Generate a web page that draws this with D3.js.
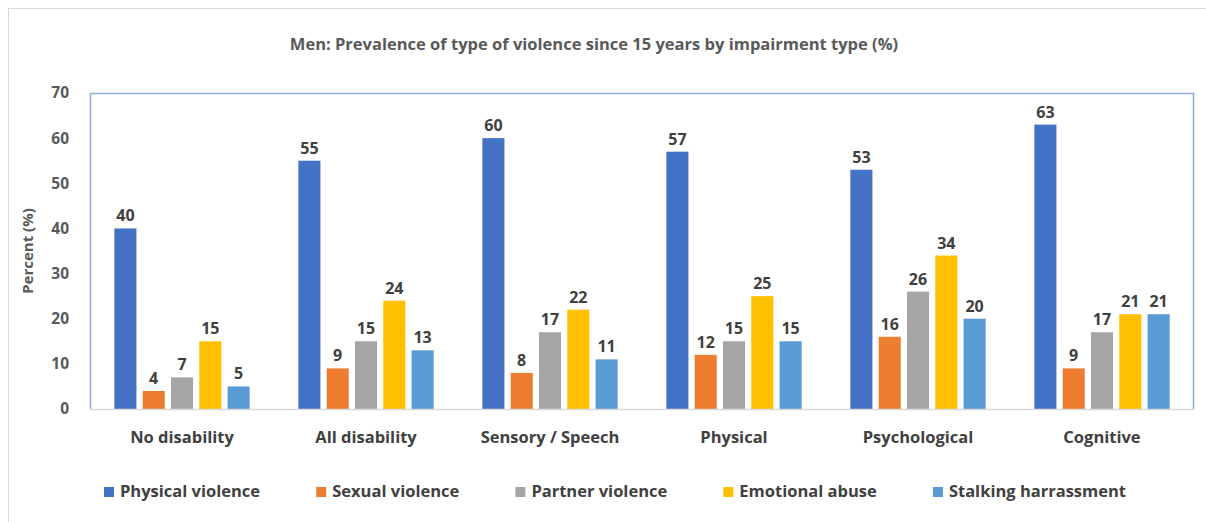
<!DOCTYPE html>
<html>
<head>
<meta charset="utf-8">
<script src="https://cdn.jsdelivr.net/npm/d3@7"></script>
<style>
  body { margin: 0; background: #fff; }
  text { font-family: "Open Sans", sans-serif; font-weight: 700; }
</style>
</head>
<body>
<svg id="chart" width="1206" height="522"></svg>
<script>
// data
var categories = ["No disability", "All disability", "Sensory / Speech", "Physical", "Psychological", "Cognitive"];
var seriesNames = ["Physical violence", "Sexual violence", "Partner violence", "Emotional abuse", "Stalking harrassment"];
var physicalViolence = [40, 55, 60, 57, 53, 63];
var sexualViolence = [4, 9, 8, 12, 16, 9];
var partnerViolence = [7, 15, 17, 15, 26, 17];
var emotionalAbuse = [15, 24, 22, 25, 34, 21];
var stalking = [5, 13, 11, 15, 20, 21];
var yTicks = [0, 10, 20, 30, 40, 50, 60, 70];
var colors = ["#4472C4", "#ED7D31", "#A5A5A5", "#FFC000", "#5B9BD5"];

var seriesValues = [physicalViolence, sexualViolence, partnerViolence, emotionalAbuse, stalking];

var svg = d3.select("#chart");

// outer chart border
svg.append("rect")
  .attr("x", 8.5).attr("y", 8.5)
  .attr("width", 1210).attr("height", 530)
  .attr("fill", "#fff")
  .attr("stroke", "#D9D9D9");

var plotLeft = 90, plotRight = 1194, plotTop = 93, plotBottom = 409;

var x0 = d3.scaleBand().domain(categories).range([plotLeft, plotRight]).padding(0);
var x1 = d3.scaleBand().domain(seriesNames).range([0, x0.bandwidth()])
  .paddingInner(0.22).paddingOuter(0.86);
var y = d3.scaleLinear().domain([0, 70]).range([plotBottom, plotTop]);

// title
svg.append("text")
  .attr("x", 594).attr("y", 50)
  .attr("text-anchor", "middle")
  .attr("fill", "#595959")
  .style("font-size", "16.5px")
  .text("Men: Prevalence of type of violence since 15 years by impairment type (%)");

// y axis title
svg.append("text")
  .attr("transform", "translate(33," + ((plotTop + plotBottom) / 2) + ") rotate(-90)")
  .attr("text-anchor", "middle")
  .attr("fill", "#595959")
  .style("font-size", "15px")
  .text("Percent (%)");

// y tick labels
svg.append("g")
  .selectAll("text")
  .data(yTicks)
  .enter()
  .append("text")
  .attr("x", 69)
  .attr("y", function(d) { return y(d); })
  .attr("dy", "0.35em")
  .attr("text-anchor", "end")
  .attr("fill", "#595959")
  .style("font-size", "15.5px")
  .text(function(d) { return d; });

// bars
var rows = [];
categories.forEach(function(c, i) {
  seriesNames.forEach(function(s, j) {
    rows.push({ cat: c, series: s, value: seriesValues[j][i], color: colors[j] });
  });
});

svg.append("g")
  .selectAll("rect")
  .data(rows)
  .enter()
  .append("rect")
  .attr("x", function(d) { return x0(d.cat) + x1(d.series); })
  .attr("y", function(d) { return y(d.value); })
  .attr("width", x1.bandwidth())
  .attr("height", function(d) { return y(0) - y(d.value); })
  .attr("fill", function(d) { return d.color; });

// value labels
svg.append("g")
  .selectAll("text")
  .data(rows)
  .enter()
  .append("text")
  .attr("x", function(d) { return x0(d.cat) + x1(d.series) + x1.bandwidth() / 2; })
  .attr("y", function(d) { return y(d.value) - 7; })
  .attr("text-anchor", "middle")
  .attr("fill", "#404040")
  .style("font-size", "16px")
  .text(function(d) { return d.value; });

// plot border (top, left, right) and x axis line
svg.append("path")
  .attr("d", "M" + (plotLeft + 0.5) + "," + plotBottom + "V" + (plotTop + 0.5) + "H" + (plotRight - 0.5) + "V" + plotBottom)
  .attr("fill", "none")
  .attr("stroke", "#8FAADC")
  .attr("stroke-width", 1.5);
svg.append("line")
  .attr("x1", plotLeft).attr("x2", plotRight)
  .attr("y1", plotBottom + 0.5).attr("y2", plotBottom + 0.5)
  .attr("stroke", "#D9D9D9")
  .attr("stroke-width", 1.5);

// category labels
svg.append("g")
  .selectAll("text")
  .data(categories)
  .enter()
  .append("text")
  .attr("x", function(d) { return x0(d) + x0.bandwidth() / 2; })
  .attr("y", 443)
  .attr("text-anchor", "middle")
  .attr("fill", "#404040")
  .style("font-size", "16.5px")
  .text(function(d) { return d; });

// legend
var legend = svg.append("g");
var items = legend.selectAll("g")
  .data(seriesNames)
  .enter()
  .append("g");
items.append("rect")
  .attr("width", 10).attr("height", 10)
  .attr("y", 487)
  .attr("fill", function(d, i) { return colors[i]; });
items.append("text")
  .attr("x", 16)
  .attr("y", 497)
  .attr("fill", "#404040")
  .style("font-size", "16.5px")
  .text(function(d) { return d; });

// spread legend entries with equal gaps between 104 and 1126
var widths = [];
items.select("text").each(function() { widths.push(16 + this.getComputedTextLength()); });
var total = d3.sum(widths);
var gap = (1126 - 104 - total) / (seriesNames.length - 1);
var pos = 104;
items.each(function(d, i) {
  d3.select(this).attr("transform", "translate(" + pos + ",0)");
  pos += widths[i] + gap;
});
</script>
</body>
</html>
